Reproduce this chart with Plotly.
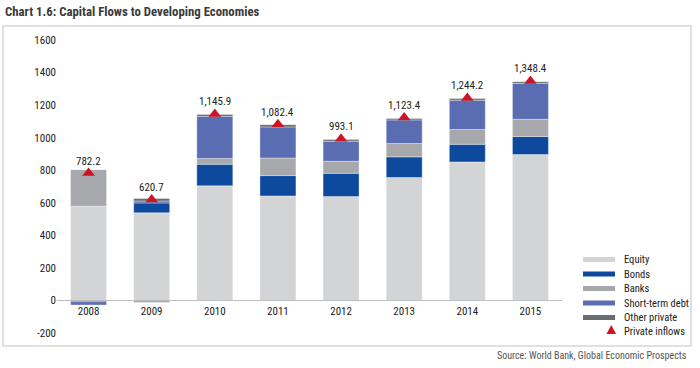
import plotly.graph_objects as go

years = ['2008', '2009', '2010', '2011', '2012', '2013', '2014', '2015']
equity = [579, 538, 704, 642, 638, 755, 851, 896]
bonds = [-8, 61, 133, 125, 143, 127, 108, 111]
banks = [225, -12, 35, 108, 74, 82, 91, 106]
short_term = [-20, 12, 259, 191, 123, 145, 180, 221]
other_private = [0, 15, 12, 14, 10, 8, 10, 10]
private_inflows = [782.2, 620.7, 1145.9, 1082.4, 993.1, 1123.4, 1244.2, 1348.4]
y_ticks = [-200, 0, 200, 400, 600, 800, 1000, 1200, 1400, 1600]

series = [
    ('Equity', equity, '#d3d4d6'),
    ('Bonds', bonds, '#0d4a9d'),
    ('Banks', banks, '#a7a8ab'),
    ('Short-term debt', short_term, '#5a6db3'),
    ('Other private', other_private, '#6b6c70'),
]
red = '#cc1424'
FONT = 'Roboto Condensed, Roboto, Arial, sans-serif'

W, H = 700, 368
L, R, T, B = 57, 138, 40, 35
pw, ph = W - L - R, H - T - B

def px(xp):
    return (xp - L) / pw

def py(yp):
    return (H - B - yp) / ph

fig = go.Figure()
for name, vals, col in series:
    fig.add_trace(go.Bar(x=years, y=vals, name=name, marker_color=col,
                         marker_line_width=0.6, marker_line_color='rgba(255,255,255,0.6)',
                         width=0.57, showlegend=False))
fig.add_trace(go.Scatter(x=years, y=private_inflows, mode='markers', name='Private inflows',
                         marker=dict(symbol='triangle-up', size=11, color=red), showlegend=False))

for i, v in enumerate(private_inflows):
    fig.add_annotation(x=i, y=v, xref='x', yref='y', text=f"{v:,.1f}", showarrow=False, yshift=12,
                       font=dict(size=11, color='#222', family=FONT))

# manual legend (compact spacing as in the reference)
row_y = [259.5, 274, 288.5, 303, 317.5]
for (name, vals, col), yy in zip(series, row_y):
    fig.add_shape(type='rect', xref='paper', yref='paper', x0=px(583), x1=px(615),
                  y0=py(yy + 2.5), y1=py(yy - 2.5), fillcolor=col, line=dict(width=0))
    fig.add_annotation(xref='paper', yref='paper', x=px(622), y=py(yy), xanchor='left', yanchor='middle',
                       text=name, showarrow=False, font=dict(size=10.5, color='#222', family=FONT))
ty = 330
fig.add_shape(type='path', xref='paper', yref='paper',
              path=f"M {px(606.5)},{py(ty + 4)} L {px(616)},{py(ty + 4)} L {px(611.25)},{py(ty - 5)} Z",
              fillcolor=red, line=dict(width=0))
fig.add_annotation(xref='paper', yref='paper', x=px(622), y=py(ty + 1.5), xanchor='left', yanchor='middle',
                   text='Private inflows', showarrow=False, font=dict(size=10.5, color='#222', family=FONT))

fig.add_annotation(xref='paper', yref='paper', x=px(689), y=py(355), xanchor='right', yanchor='middle',
                   text='Source: World Bank, Global Economic Prospects', showarrow=False,
                   font=dict(size=10, color='#555', family=FONT))

fig.add_shape(type='rect', xref='paper', yref='paper', x0=px(3), x1=px(691), y0=py(346), y1=py(26),
              line=dict(color='#d6d6d6', width=1.5), fillcolor='rgba(0,0,0,0)', layer='below')

fig.update_layout(
    width=W, height=H,
    margin=dict(l=L, r=R, t=T, b=B, autoexpand=False),
    barmode='relative',
    showlegend=False,
    paper_bgcolor='white', plot_bgcolor='white',
    font=dict(family=FONT, size=11, color='#222'),
    title=dict(text='<b>Chart 1.6: Capital Flows to Developing Economies</b>', x=5 / W, xanchor='left',
               y=1 - 12 / H, yanchor='middle', font=dict(size=12.8, color='#3a3a3a', family=FONT)),
    xaxis=dict(type='category', range=[-0.5, 7.5], showline=True, linecolor='#bdbdbd', linewidth=1,
               ticks='', anchor='free', position=200 / 1800, showgrid=False,
               tickfont=dict(size=11, family=FONT)),
    yaxis=dict(range=[-200, 1600], tickvals=y_ticks, ticktext=[str(v) for v in y_ticks], showgrid=False,
               zeroline=False, showline=False, ticks='', tickfont=dict(size=11, family=FONT)),
)

fig.write_html('out.html', config={'displayModeBar': False},
               post_script="document.body.style.margin='0';")
